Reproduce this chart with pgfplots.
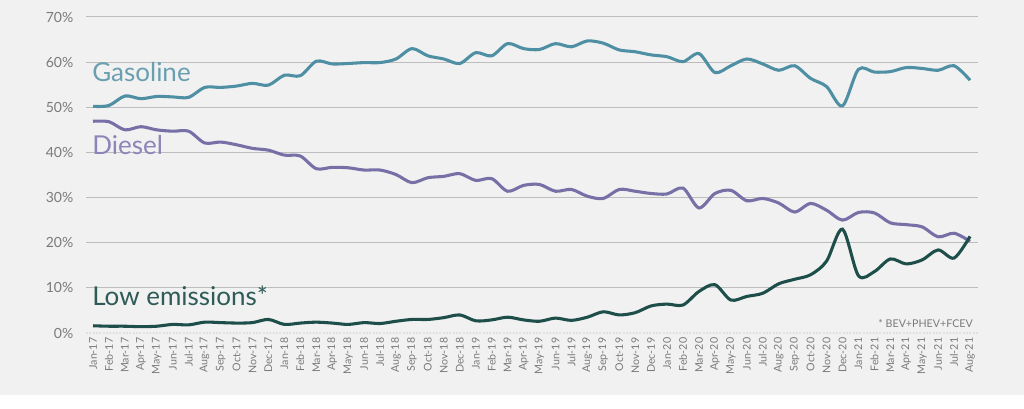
\documentclass[border=0pt]{standalone}
\usepackage{pgfplots}
\usepackage{pgfplotstable}
\pgfplotsset{compat=1.18}
\usepackage{fontspec}
\setmainfont{Lato}
\definecolor{bg}{HTML}{F1F1F1}
\definecolor{gasc}{HTML}{4E8FA3}
\definecolor{gast}{HTML}{6A9FB0}
\definecolor{dslc}{HTML}{7770A6}
\definecolor{dslt}{HTML}{8C86B8}
\definecolor{lowc}{HTML}{1D4E49}
\definecolor{lowt}{HTML}{2E5B57}
\definecolor{gridc}{HTML}{BDBDBD}
\definecolor{tickc}{HTML}{7A7A7A}
\pgfplotstableread{
i gas dsl low
0 50.2 46.9 1.6
1 50.4 46.8 1.5
2 52.5 45.0 1.5
3 51.9 45.7 1.4
4 52.4 45.0 1.5
5 52.3 44.7 1.9
6 52.2 44.7 1.8
7 54.4 42.1 2.4
8 54.4 42.3 2.3
9 54.7 41.7 2.2
10 55.3 40.9 2.3
11 54.9 40.5 3.0
12 57.1 39.4 1.9
13 57.0 39.2 2.2
14 60.2 36.4 2.4
15 59.6 36.7 2.2
16 59.7 36.6 1.9
17 59.9 36.1 2.3
18 59.9 36.1 2.1
19 60.7 35.1 2.6
20 63.0 33.3 3.0
21 61.4 34.4 3.0
22 60.7 34.7 3.4
23 59.7 35.3 4.0
24 62.1 33.8 2.7
25 61.4 34.2 2.9
26 64.1 31.4 3.5
27 63.0 32.7 2.9
28 62.8 32.9 2.6
29 64.1 31.4 3.3
30 63.4 31.8 2.8
31 64.7 30.3 3.5
32 64.2 29.8 4.7
33 62.7 31.8 4.0
34 62.3 31.4 4.5
35 61.6 30.9 6.0
36 61.2 30.8 6.4
37 60.1 32.1 6.2
38 61.9 27.7 9.2
39 57.7 30.9 10.7
40 59.2 31.6 7.3
41 60.7 29.3 8.1
42 59.6 29.8 8.8
43 58.2 28.8 10.9
44 59.2 26.8 11.9
45 56.4 28.7 12.9
46 54.6 27.2 15.9
47 50.3 25.0 23.0
48 58.4 26.7 12.7
49 57.8 26.6 13.6
50 57.9 24.4 16.4
51 58.8 24.0 15.3
52 58.6 23.5 16.2
53 58.2 21.3 18.4
54 59.2 22.1 16.6
55 56.0 20.3 21.4
}\data
\begin{document}
\begin{tikzpicture}[x=1pt,y=1pt]
\path[use as bounding box] (0,0) rectangle (768,306.75);
\fill[white] (0,0) rectangle (768,306.75);
\fill[bg] (0,10.5) rectangle (768,306.75);
\begin{axis}[
  at={(64.5pt,57pt)}, anchor=south west,
  scale only axis, width=669pt, height=237pt,
  xmin=-0.44, xmax=55.5, ymin=0, ymax=70,
  axis line style={draw=none},
  ytick={10,20,...,70},
  extra y ticks={0},
  extra y tick style={grid style={draw=gridc!45, line width=0.8pt, dash pattern=on 1.5pt off 1pt}},
  yticklabel={\pgfmathprintnumber{\tick}\%},
  /pgf/number format/assume math mode=true,
  ymajorgrids, grid style={gridc, line width=0.75pt},
  major tick length=0pt,
  yticklabel style={font=\fontsize{10.5}{12}\selectfont, text=tickc, xshift=-6pt},
  xtick={0,...,55},
  xticklabels={Jan-17,Feb-17,Mar-17,Apr-17,May-17,Jun-17,Jul-17,Aug-17,Sep-17,Oct-17,Nov-17,Dec-17,
    Jan-18,Feb-18,Mar-18,Apr-18,May-18,Jun-18,Jul-18,Aug-18,Sep-18,Oct-18,Nov-18,Dec-18,
    Jan-19,Feb-19,Mar-19,Apr-19,May-19,Jun-19,Jul-19,Aug-19,Sep-19,Oct-19,Nov-19,Dec-19,
    Jan-20,Feb-20,Mar-20,Apr-20,May-20,Jun-20,Jul-20,Aug-20,Sep-20,Oct-20,Nov-20,Dec-20,
    Jan-21,Feb-21,Mar-21,Apr-21,May-21,Jun-21,Jul-21,Aug-21},
  xticklabel style={rotate=90, anchor=east, font=\fontsize{8}{9}\selectfont, text=tickc},
  clip=false,
]
\addplot[gasc, line width=2.3pt, smooth, tension=0.5] table[x=i,y=gas]{\data};
\addplot[dslc, line width=2.3pt, smooth, tension=0.5] table[x=i,y=dsl]{\data};
\addplot[lowc, line width=2.3pt, smooth, tension=0.5] table[x=i,y=low]{\data};
\end{axis}
\node[anchor=base west, inner sep=0, text=gast, font=\fontsize{19.5}{22}\selectfont] at (69,245.25) {Gasoline};
\node[anchor=base west, inner sep=0, text=dslt, font=\fontsize{19.5}{22}\selectfont] at (69,190.5) {Diesel};
\node[anchor=base west, inner sep=0, text=lowt, font=\fontsize{19.5}{22}\selectfont] at (69,77.25) {Low emissions*};
\node[anchor=base east, inner sep=0, text=tickc, font=\fontsize{8}{9}\selectfont] at (729.75,60.75) {* BEV+PHEV+FCEV};
\end{tikzpicture}
\end{document}
